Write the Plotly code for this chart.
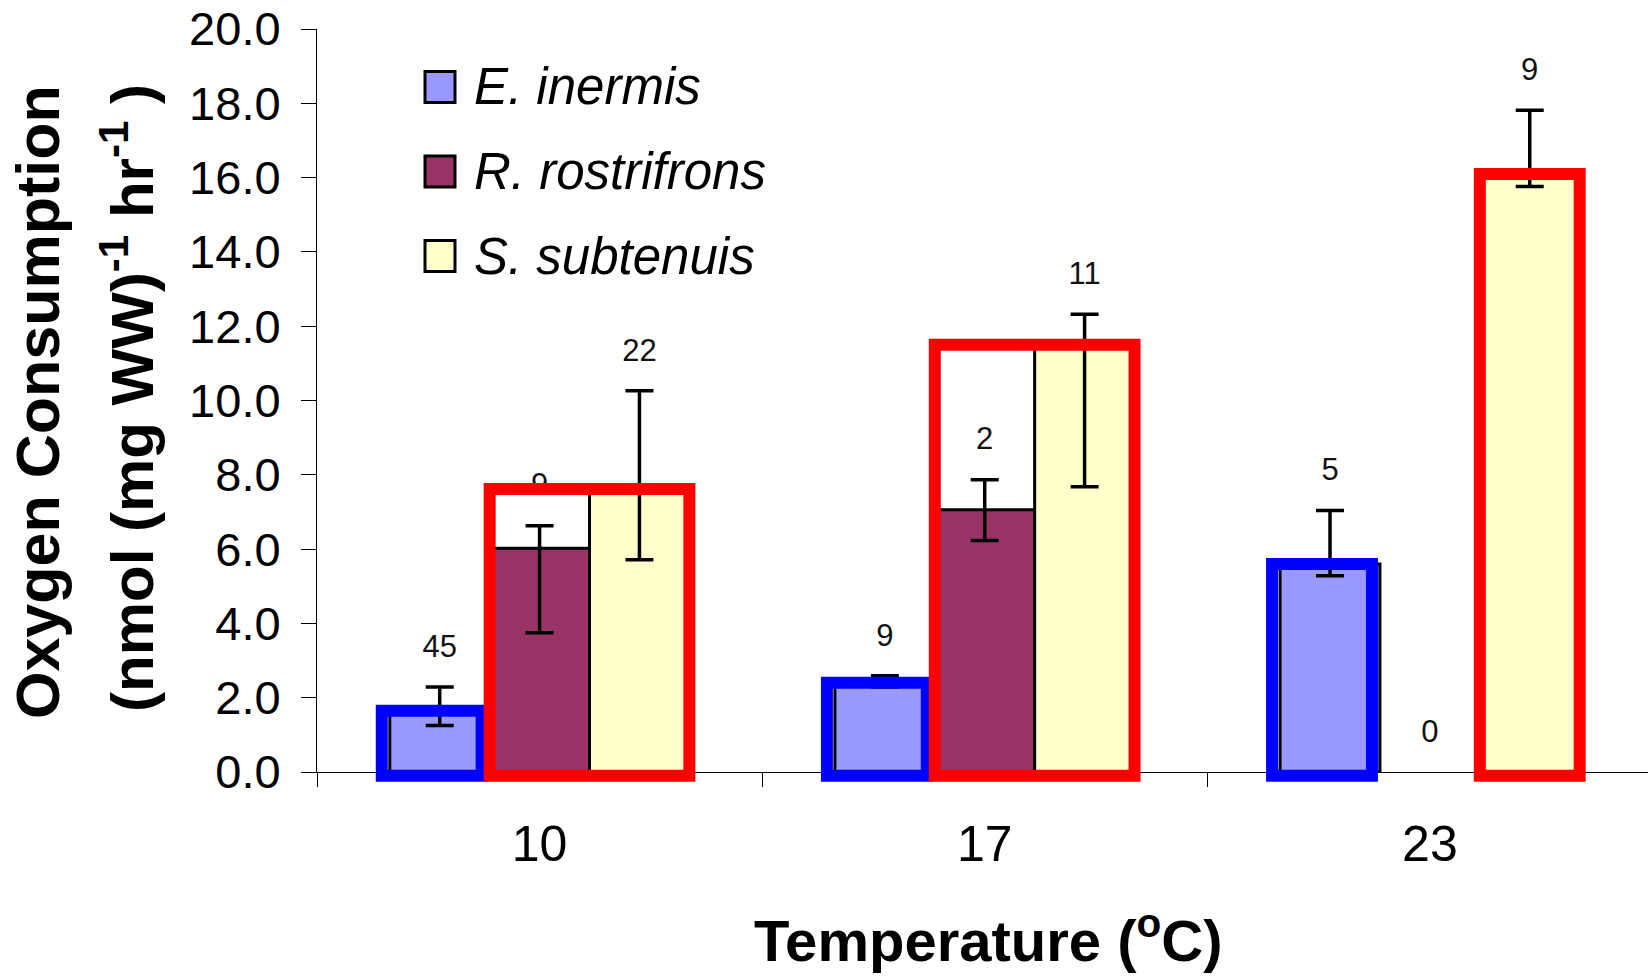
import plotly.graph_objects as go

# ---- data -------------------------------------------------------------
temperatures = ["10", "17", "23"]
species = ["E. inermis", "R. rostrifrons", "S. subtenuis"]

e_inermis = [1.65, 2.40, 5.60]
r_rostrifrons = [6.02, 7.06, None]   # no animals measured at 23 ºC
s_subtenuis = [7.62, 11.50, 16.10]

e_err_plus = [0.64, 0.19, 1.44]
e_err_minus = [0.40, 0.11, 0.32]
r_err_plus = [0.61, 0.81, None]
r_err_minus = [2.27, 0.83, None]
s_err_plus = [2.64, 0.82, 1.71]
s_err_minus = [1.91, 3.82, 0.34]

n_e_inermis = [45, 9, 5]
n_r_rostrifrons = [9, 2, 0]
n_s_subtenuis = [22, 11, 9]

# ---- styling ------------------------------------------------------------
fill_colors = ["#9999FF", "#993366", "#FFFFCC"]
FONT = "Arial, 'Liberation Sans', sans-serif"

W, H = 1648, 978
M_L, M_R, M_T, M_B = 317, 0, 29, 206
PLOT_W = W - M_L - M_R
PLOT_H = H - M_T - M_B
Y_MAX = 20
X_RANGE = [-0.5, 2.49]
BARGAP = 0.327
BAR_W = (1 - BARGAP) / 3
LABEL_GAP_PX = 38

values = [e_inermis, r_rostrifrons, s_subtenuis]
err_plus = [e_err_plus, r_err_plus, s_err_plus]
err_minus = [e_err_minus, r_err_minus, s_err_minus]
counts = [n_e_inermis, n_r_rostrifrons, n_s_subtenuis]

# outline boxes drawn around bars: (temperature index, species indices, colour, x nudge)
highlights = [
    (0, [0], "#0000FF", -0.018),
    (0, [1, 2], "#FF0000", 0.0),
    (1, [0], "#0000FF", -0.018),
    (1, [1, 2], "#FF0000", 0.0),
    (2, [0], "#0000FF", -0.018),
    (2, [2], "#FF0000", 0.0),
]


def px_x(px):
    return (px - M_L) / PLOT_W


def px_y(py):
    return (H - M_B - py) / PLOT_H


def bar_center(i, s):
    return i + (s - 1) * BAR_W


fig = go.Figure()

for s in range(3):
    fig.add_trace(go.Bar(
        x=temperatures,
        y=values[s],
        name=species[s],
        marker=dict(color=fill_colors[s], line=dict(color="black", width=3)),
        error_y=dict(type="data", symmetric=False,
                     array=err_plus[s], arrayminus=err_minus[s],
                     color="black", thickness=3.5, width=14),
        showlegend=False,
    ))

# sample sizes above each error bar
gap_units = LABEL_GAP_PX / PLOT_H * Y_MAX
for s in range(3):
    xs, ys, txt = [], [], []
    for i in range(3):
        top = (values[s][i] or 0) + (err_plus[s][i] or 0)
        xs.append(bar_center(i, s))
        ys.append(top + gap_units)
        txt.append(str(counts[s][i]))
    fig.add_trace(go.Scatter(
        x=xs, y=ys, text=txt, mode="text", xaxis="x2", yaxis="y",
        textposition="middle center",
        textfont=dict(family=FONT, size=31, color="#111111"),
        cliponaxis=False, showlegend=False, hoverinfo="skip",
    ))

shapes = []
for i, members, color, nudge in highlights:
    left = bar_center(i, members[0]) - BAR_W / 2 + nudge
    right = bar_center(i, members[-1]) + BAR_W / 2 + nudge
    top = max(values[s][i] or 0 for s in members)
    shapes.append(dict(
        type="rect", xref="x2", yref="paper",
        x0=left, x1=right, y0=-0.1 / Y_MAX, y1=top / Y_MAX,
        line=dict(color=color, width=12), fillcolor="rgba(0,0,0,0)",
        layer="above",
    ))

# legend keys
legend_rows = [87, 171.5, 256]
annotations = []
for s, cy in enumerate(legend_rows):
    shapes.append(dict(
        type="rect", xref="paper", yref="paper",
        x0=px_x(425), x1=px_x(455), y0=px_y(cy + 15.5), y1=px_y(cy - 15.5),
        fillcolor=fill_colors[s], line=dict(color="black", width=3),
    ))
    annotations.append(dict(
        xref="paper", yref="paper", x=px_x(472), y=px_y(cy),
        xanchor="left", yanchor="middle", showarrow=False,
        text=f"<i>{species[s]}</i>",
        font=dict(family=FONT, size=51, color="black"),
    ))

# axis titles
annotations.append(dict(
    xref="paper", yref="paper", x=px_x(988), y=px_y(936),
    xanchor="center", yanchor="middle", showarrow=False,
    text="<b>Temperature (<sup>o</sup>C)</b>",
    font=dict(family=FONT, size=58, color="black"),
))
annotations.append(dict(
    xref="paper", yref="paper", x=px_x(38), y=px_y(402),
    xanchor="center", yanchor="middle", showarrow=False, textangle=-90,
    text="<b>Oxygen Consumption</b>",
    font=dict(family=FONT, size=61, color="black"),
))
annotations.append(dict(
    xref="paper", yref="paper", x=px_x(128), y=px_y(398),
    xanchor="center", yanchor="middle", showarrow=False, textangle=-90,
    text="<b>(nmol (mg WW)<sup>-1</sup> hr<sup>-1</sup> )</b>",
    font=dict(family=FONT, size=60, color="black"),
))

fig.update_layout(
    width=W, height=H,
    margin=dict(l=M_L, r=M_R, t=M_T, b=M_B, pad=0),
    paper_bgcolor="white", plot_bgcolor="white",
    barmode="group", bargap=BARGAP, bargroupgap=0,
    shapes=shapes, annotations=annotations,
    showlegend=False,
    xaxis=dict(
        type="category", range=X_RANGE,
        showline=True, linecolor="black", linewidth=1,
        ticks="outside", tickson="boundaries", ticklen=14,
        tickcolor="black", tickwidth=1,
        tickfont=dict(family=FONT, size=50, color="black"),
        ticklabelstandoff=28,
        showgrid=False, zeroline=False,
    ),
    xaxis2=dict(
        overlaying="x", anchor="y", range=X_RANGE, visible=False,
        showgrid=False, zeroline=False,
    ),
    yaxis=dict(
        range=[0, Y_MAX], dtick=2, tick0=0, tickformat=".1f",
        showline=True, linecolor="black", linewidth=1,
        ticks="outside", ticklen=15, tickcolor="black", tickwidth=1,
        tickfont=dict(family=FONT, size=47, color="black"),
        ticklabelstandoff=11,
        showgrid=False, zeroline=False,
    ),
)

fig.write_html("out.html")
